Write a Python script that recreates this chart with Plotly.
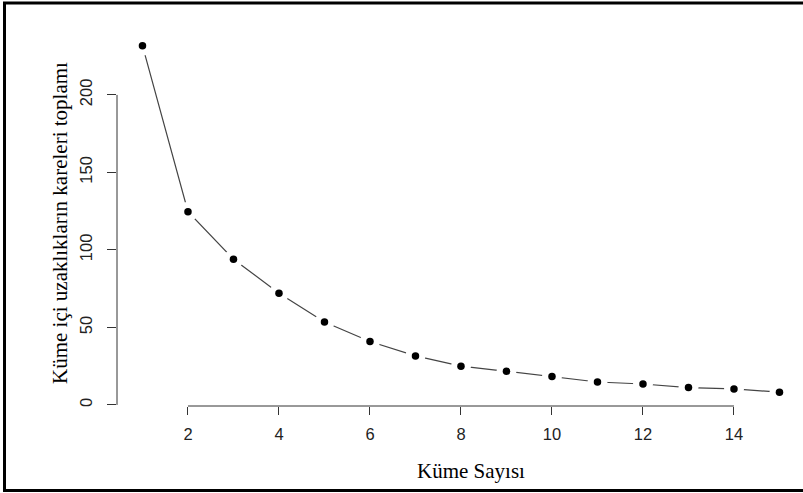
import plotly.graph_objects as go

kume_sayisi = list(range(1, 16))
wss = [231.8, 124.7, 94.0, 72.0, 53.5, 40.9, 31.6, 25.0, 21.7, 18.3, 14.8, 13.5, 11.2, 10.3, 8.2]
x_ticks = [2, 4, 6, 8, 10, 12, 14]
y_ticks = [0, 50, 100, 150, 200]
x_title = "Küme Sayısı"
y_title = "Küme içi uzaklıkların kareleri toplamı"

W, H = 803, 493
ml, mr, mt, mb = 117, 1, 32, 87
pw = W - ml - mr
ph = H - mt - mb

fig = go.Figure()
fig.add_trace(go.Scatter(x=kume_sayisi, y=wss, mode="lines",
                         line=dict(color="#444444", width=1.2), hoverinfo="skip"))
fig.add_trace(go.Scatter(x=kume_sayisi, y=wss, mode="markers",
                         marker=dict(color="#ffffff", size=20, opacity=1, line=dict(width=0)),
                         hoverinfo="skip"))
fig.add_trace(go.Scatter(x=kume_sayisi, y=wss, mode="markers",
                         marker=dict(color="black", size=7.5, line=dict(width=0))))

tickfont = dict(family="Liberation Sans, Arial", size=16.5, color="#222222")
fig.update_xaxes(range=[0.44, 0.44 + pw / 45.5], tickvals=x_ticks, ticks="outside", ticklen=8,
                 tickcolor="#333333", tickwidth=1, showline=False, showgrid=False, zeroline=False,
                 tickfont=tickfont, ticklabelstandoff=5)
fig.update_yaxes(range=[-0.7, -0.7 + ph / 1.55], tickvals=y_ticks, ticks="outside", ticklen=9,
                 tickcolor="#333333", tickwidth=1, showline=False, showgrid=False, zeroline=False,
                 tickangle=-90, tickfont=tickfont, ticklabelstandoff=8)

# axis lines spanning the tick range (R style)
fig.add_shape(type="line", xref="x", yref="paper", x0=min(x_ticks), x1=max(x_ticks), y0=0, y1=0,
              line=dict(color="#333333", width=1))
fig.add_shape(type="line", xref="paper", yref="y", x0=0, x1=0, y0=min(y_ticks), y1=max(y_ticks),
              line=dict(color="#333333", width=1))

def px2paper_x(px):
    return (px - ml) / pw

def py2paper_y(py):
    return (H - mb - py) / ph

# outer frame
fig.add_shape(type="rect", xref="paper", yref="paper",
              x0=px2paper_x(4.5), x1=px2paper_x(810), y0=py2paper_y(490.5), y1=py2paper_y(3),
              line=dict(color="black", width=3), fillcolor="rgba(0,0,0,0)")

titlefont = dict(family="Liberation Serif, Times New Roman", size=21, color="black")
fig.add_annotation(text=x_title, xref="paper", yref="paper", x=px2paper_x(471), y=py2paper_y(471),
                   xanchor="center", yanchor="middle", showarrow=False, font=titlefont)
fig.add_annotation(text=y_title, xref="paper", yref="paper", x=px2paper_x(60), y=py2paper_y(223),
                   xanchor="center", yanchor="middle", showarrow=False, textangle=-90, font=titlefont)

fig.update_layout(width=W, height=H, margin=dict(l=ml, r=mr, t=mt, b=mb),
                  paper_bgcolor="white", plot_bgcolor="white", showlegend=False)

fig.write_html("out.html", config={"displayModeBar": False},
               post_script="document.body.style.margin='0';document.body.style.padding='0';document.body.style.overflow='hidden';")
